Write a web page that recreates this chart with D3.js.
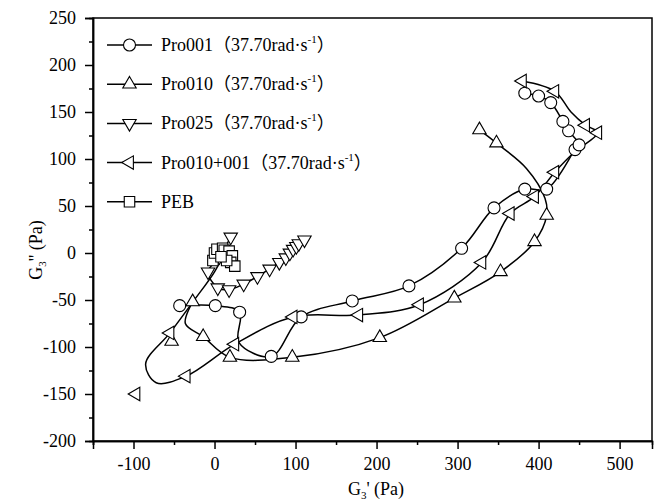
<!DOCTYPE html>
<html>
<head>
<meta charset="utf-8">
<script src="https://cdn.jsdelivr.net/npm/d3@7"></script>
<style>
  body { margin: 0; background: #fff; }
  text { font-family: "Liberation Serif", "Times New Roman", "Noto Sans CJK SC", serif; }
</style>
</head>
<body>
<script>
// series values: [G3', G3'']
const pro001 = [[-43,-56],[1,-56],[31,-63],[30,-95],[70,-110],[107,-68],[170,-51],[240,-35],[305,5],[345,48],[383,68],[410,68],[445,110],[450,115],[437,130],[430,140],[415,160],[400,167],[383,170]];
const pro001Hidden = [3];

const pro010 = [[327,131],[348,117],[385,90],[408,58],[410,40],[395,12],[353,-20],[296,-48],[204,-90],[96,-111],[19,-111],[-14,-89],[-36,-75],[-27,-52]];
const pro010Hidden = [2,3,12];
const pro010Stray = [[-53,-94]];

const pro025 = [[20,17],[6,-4],[-8,-20],[4,-37],[18,-39],[36,-33],[53,-25],[68,-17],[80,-10],[88,-5],[93,0],[97,4],[101,7],[104,10],[111,14]];
const pro025Hidden = [];

const pro010_001 = [[380,183],[420,172],[440,150],[458,136],[473,128],[445,108],[420,86],[395,60],[365,42],[330,-10],[253,-55],[178,-66],[97,-68],[25,-97],[-35,-131],[-72,-138],[-85,-118],[-55,-85],[-25,-50],[0,-20],[12,0]];
const pro010_001Hidden = [2,5,15,16,18,19,20];
const pro010_001Stray = [[-97,-150]];

const peb = [[-2,-8],[0,0],[3,4],[10,5],[12,3],[18,2],[22,-3],[20,-10],[25,-14],[15,-8],[8,-4]];
const pebHidden = [];

const legendLabels = ['Pro001', 'Pro010', 'Pro025', 'Pro010+001', 'PEB'];
const rateLabel = '（37.70rad·s';

const xMajor = [-100, 0, 100, 200, 300, 400, 500];
const xMinor = [-150, -50, 50, 150, 250, 350, 450];
const yMajor = [-200, -150, -100, -50, 0, 50, 100, 150, 200, 250];
const yMinor = [-175, -125, -75, -25, 25, 75, 125, 175, 225];

const W = 654, H = 503;
const plot = {left: 93, right: 652, top: 18, bottom: 441};

const svg = d3.select('body').append('svg')
    .attr('width', W)
    .attr('height', H);

const x = d3.scaleLinear().domain([-150, 540]).range([plot.left, plot.right]);
const y = d3.scaleLinear().domain([-200, 250]).range([plot.bottom, plot.top]);

// frame
svg.append('rect')
    .attr('x', plot.left).attr('y', plot.top)
    .attr('width', plot.right - plot.left).attr('height', plot.bottom - plot.top)
    .attr('fill', 'none').attr('stroke', '#000').attr('stroke-width', 1.5);

// axes (plain hyphen for negatives, like the original)
const fmt = function (d) { return String(d); };
const xAxis = d3.axisBottom(x).tickValues(xMajor).tickSize(8).tickPadding(8).tickFormat(fmt);
const xAxisMinor = d3.axisBottom(x).tickValues(xMinor).tickSize(4).tickFormat('');
const yAxis = d3.axisLeft(y).tickValues(yMajor).tickSize(8).tickPadding(9).tickFormat(fmt);
const yAxisMinor = d3.axisLeft(y).tickValues(yMinor).tickSize(4).tickFormat('');

[[xAxis, 'x'], [xAxisMinor, 'x'], [yAxis, 'y'], [yAxisMinor, 'y']].forEach(function (a) {
    const g = svg.append('g')
        .attr('transform', a[1] === 'x' ? 'translate(0,' + plot.bottom + ')' : 'translate(' + plot.left + ',0)')
        .call(a[0]);
    g.select('.domain').attr('stroke-width', 1.5);
    g.selectAll('line').attr('stroke-width', 1.5);
    g.selectAll('text').attr('font-size', 18).attr('fill', '#000')
        .style('font-family', '"Liberation Serif", "Times New Roman", serif');
});

// axis titles
const xt = svg.append('text').attr('x', 376).attr('y', 495).attr('text-anchor', 'middle').attr('font-size', 18);
xt.append('tspan').text('G');
xt.append('tspan').attr('font-size', 11).attr('dy', 4).text('3');
xt.append('tspan').attr('dy', -4).text("' (Pa)");

const yt = svg.append('text').attr('transform', 'translate(42,250) rotate(-90)').attr('text-anchor', 'middle').attr('font-size', 18);
yt.append('tspan').text('G');
yt.append('tspan').attr('font-size', 11).attr('dy', 4).text('3');
yt.append('tspan').attr('dy', -4).text("'' (Pa)");

// markers
function markerPath(kind) {
    if (kind === 'circle') return d3.symbol(d3.symbolCircle, 113)();
    if (kind === 'square') return d3.symbol(d3.symbolSquare, 110)();
    return d3.symbol(d3.symbolTriangle, 78)();
}
function markerRot(kind) {
    if (kind === 'down') return 180;
    if (kind === 'left') return -90;
    return 0;
}

const line = d3.line()
    .x(function (d) { return x(d[0]); })
    .y(function (d) { return y(d[1]); })
    .curve(d3.curveCatmullRom.alpha(0.5));

const series = [
    {pts: pro001, hidden: pro001Hidden, stray: [], kind: 'circle'},
    {pts: pro010, hidden: pro010Hidden, stray: pro010Stray, kind: 'up'},
    {pts: pro025, hidden: pro025Hidden, stray: [], kind: 'down'},
    {pts: pro010_001, hidden: pro010_001Hidden, stray: pro010_001Stray, kind: 'left'},
    {pts: peb, hidden: pebHidden, stray: [], kind: 'square'}
];

const plotG = svg.append('g');

series.forEach(function (s) {
    plotG.append('path')
        .attr('d', line(s.pts))
        .attr('fill', 'none')
        .attr('stroke', '#000')
        .attr('stroke-width', 1.5);
});

series.forEach(function (s) {
    const shown = s.pts.filter(function (d, i) { return s.hidden.indexOf(i) < 0; }).concat(s.stray);
    plotG.selectAll(null)
        .data(shown)
        .enter()
        .append('path')
        .attr('d', markerPath(s.kind))
        .attr('transform', function (d) {
            return 'translate(' + x(d[0]) + ',' + y(d[1]) + ') rotate(' + markerRot(s.kind) + ')';
        })
        .attr('fill', '#fff')
        .attr('stroke', '#000')
        .attr('stroke-width', 1.1);
});

// legend
const legend = svg.append('g');
legendLabels.forEach(function (name, i) {
    const ly = 45 + i * 39.2;
    legend.append('line')
        .attr('x1', 107).attr('x2', 152).attr('y1', ly).attr('y2', ly)
        .attr('stroke', '#000').attr('stroke-width', 1.5);
    legend.append('path')
        .attr('d', markerPath(series[i].kind))
        .attr('transform', 'translate(129.5,' + ly + ') rotate(' + markerRot(series[i].kind) + ')')
        .attr('fill', '#fff').attr('stroke', '#000').attr('stroke-width', 1.1);
    const t = legend.append('text').attr('x', 161).attr('y', ly + 6).attr('font-size', 18);
    t.append('tspan').text(name);
    if (name !== 'PEB') {
        t.append('tspan').text(rateLabel);
        t.append('tspan').attr('font-size', 11).attr('dy', -8).text('-1');
        t.append('tspan').attr('dy', 8).text('）');
    }
});
</script>
</body>
</html>
